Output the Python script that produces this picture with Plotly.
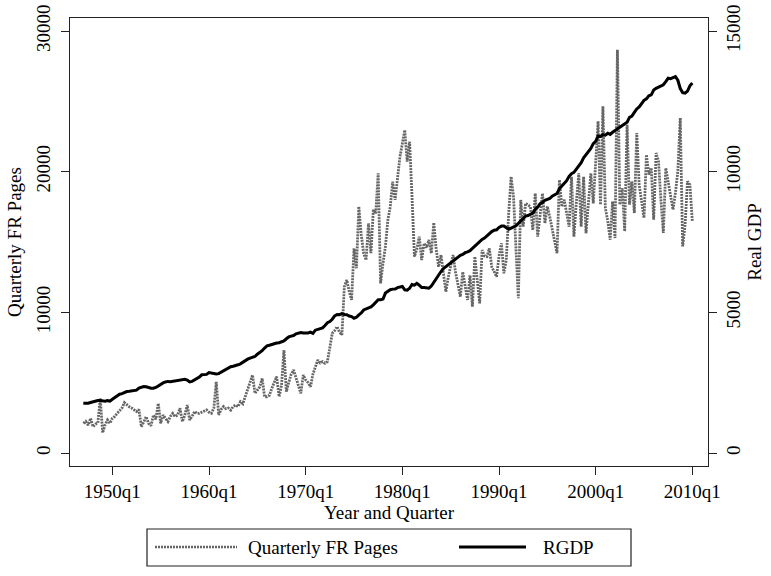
import plotly.graph_objects as go

start_year = 1947
fr_pages = [
    2110, 2250, 1980, 2470,  # 1947
    1870, 2050, 2150, 3890,  # 1948
    1440, 2000, 2350, 2110,  # 1949
    2470, 2600, 2820, 3000,  # 1950
    3200, 3580, 3400, 3290,  # 1951
    3200, 3060, 2950, 3090,  # 1952
    1870, 2200, 2580, 2100,  # 1953
    1940, 2700, 2400, 3530,  # 1954
    2110, 2700, 2450, 2230,  # 1955
    2600, 2820, 2580, 2700,  # 1956
    3180, 2230, 2700, 3410,  # 1957
    2350, 2600, 2950, 2820,  # 1958
    2820, 2900, 2950, 3060,  # 1959
    2900, 2820, 3200, 5070,  # 1960
    2700, 3100, 3300, 3150,  # 1961
    3200, 3050, 3300, 3410,  # 1962
    3300, 3650, 3500, 4000,  # 1963
    4480, 4900, 5545, 4240,  # 1964
    4500, 4700, 5310, 4000,  # 1965
    4000, 4100, 4600, 5000,  # 1966
    5430, 4000, 4800, 7320,  # 1967
    4360, 5000, 5600, 5900,  # 1968
    5300, 4700, 4240, 5545,  # 1969
    5200, 5000, 4710, 5600,  # 1970
    6200, 6610, 6400, 6500,  # 1971
    6380, 6500, 7500, 8510,  # 1972
    8700, 8980, 8600, 8390,  # 1973
    11820, 12300, 11500, 10880,  # 1974
    14550, 13130, 17510, 15500,  # 1975
    14200, 13720, 16330, 14200,  # 1976
    17280, 17040, 19880, 12060,  # 1977
    13500, 14670, 16560, 17500,  # 1978
    19290, 17990, 19500, 21060,  # 1979
    22000, 22960, 20710, 22130,  # 1980
    18230, 13960, 14500, 15380,  # 1981
    13720, 14910, 14600, 15140,  # 1982
    14200, 16370, 14500, 13240,  # 1983
    14080, 12800, 11470, 12500,  # 1984
    13240, 14080, 12870, 12000,  # 1985
    11110, 12870, 11900, 10880,  # 1986
    12630, 10400, 13960, 12000,  # 1987
    10640, 14430, 14000, 13960,  # 1988
    14550, 13240, 12870, 12530,  # 1989
    14000, 14910, 12770, 13720,  # 1990
    17000, 19640, 18230, 15000,  # 1991
    11000, 17990, 16090, 17750,  # 1992
    17600, 17510, 15850, 18460,  # 1993
    15380, 17000, 18460, 16330,  # 1994
    17520, 16800, 15850, 15000,  # 1995
    14200, 19410, 17510, 18000,  # 1996
    17000, 16090, 19640, 15380,  # 1997
    17800, 19880, 16090, 19640,  # 1998
    15620, 17800, 19880, 17750,  # 1999
    20830, 23580, 17650, 24650,  # 2000
    17420, 16500, 15160, 17890,  # 2001
    15280, 28670, 17650, 18840,  # 2002
    15760, 23340, 17650, 19310,  # 2003
    17060, 22750, 19070, 18000,  # 2004
    16710, 21210, 19790, 20260,  # 2005
    16590, 21330, 20740, 18000,  # 2006
    15640, 20260, 19310, 18500,  # 2007
    17300, 18500, 20030, 23820,  # 2008
    14690, 16230, 19310, 19070,  # 2009
    16470,                       # 2010q1
]

rgdp = [
    1772, 1770, 1768, 1795,      # 1947
    1823, 1856, 1866, 1869,      # 1948
    1847, 1838, 1861, 1846,      # 1949
    1912, 1975, 2055, 2090,      # 1950
    2110, 2150, 2185, 2195,      # 1951
    2210, 2215, 2235, 2310,      # 1952
    2345, 2365, 2355, 2325,      # 1953
    2305, 2305, 2330, 2385,      # 1954
    2445, 2490, 2525, 2545,      # 1955
    2535, 2550, 2550, 2580,      # 1956
    2600, 2600, 2620, 2590,      # 1957
    2525, 2545, 2590, 2650,      # 1958
    2700, 2780, 2775, 2795,      # 1959
    2860, 2845, 2840, 2805,      # 1960
    2820, 2865, 2920, 2980,      # 1961
    3030, 3065, 3085, 3100,      # 1962
    3135, 3170, 3230, 3260,      # 1963
    3335, 3375, 3415, 3430,      # 1964
    3510, 3565, 3640, 3730,      # 1965
    3810, 3830, 3860, 3880,      # 1966
    3910, 3920, 3955, 3985,      # 1967
    4060, 4125, 4155, 4175,      # 1968
    4235, 4255, 4280, 4265,      # 1969
    4265, 4265, 4295, 4250,      # 1970
    4365, 4395, 4430, 4450,      # 1971
    4530, 4630, 4675, 4755,      # 1972
    4875, 4925, 4915, 4955,      # 1973
    4925, 4915, 4870, 4850,      # 1974
    4790, 4825, 4910, 4980,      # 1975
    5085, 5125, 5155, 5190,      # 1976
    5265, 5365, 5450, 5445,      # 1977
    5475, 5685, 5745, 5805,      # 1978
    5825, 5830, 5880, 5900,      # 1979
    5920, 5800, 5790, 5855,      # 1980
    5990, 5965, 6030, 5965,      # 1981
    5880, 5885, 5865, 5860,      # 1982
    5935, 6070, 6205, 6330,      # 1983
    6450, 6555, 6620, 6680,      # 1984
    6745, 6800, 6895, 6955,      # 1985
    7025, 7055, 7120, 7150,      # 1986
    7190, 7270, 7345, 7455,      # 1987
    7505, 7590, 7640, 7725,      # 1988
    7820, 7870, 7920, 7935,      # 1989
    8020, 8065, 8065, 7990,      # 1990
    7950, 7995, 8035, 8075,      # 1991
    8160, 8250, 8325, 8420,      # 1992
    8440, 8470, 8525, 8660,      # 1993
    8735, 8860, 8905, 8985,      # 1994
    9025, 9045, 9130, 9175,      # 1995
    9225, 9395, 9495, 9615,      # 1996
    9680, 9835, 9930, 9975,      # 1997
    10100, 10220, 10320, 10495,  # 1998
    10600, 10700, 10825, 10995,  # 1999
    11080, 11260, 11250, 11315,  # 2000
    11295, 11365, 11325, 11400,  # 2001
    11465, 11530, 11585, 11630,  # 2002
    11700, 11760, 11930, 11975,  # 2003
    12105, 12230, 12300, 12420,  # 2004
    12535, 12590, 12700, 12730,  # 2005
    12900, 12960, 12995, 13050,  # 2006
    13090, 13200, 13320, 13305,  # 2007
    13335, 13375, 13250, 12955,  # 2008
    12810, 12790, 12865, 13050,  # 2009
    13150,                       # 2010q1
]

tick_years = [1950, 1960, 1970, 1980, 1990, 2000, 2010]
tick_labels = [f"{y}q1" for y in tick_years]
left_ticks = [0, 10000, 20000, 30000]
right_ticks = [0, 5000, 10000, 15000]
series_names = ["Quarterly FR Pages", "RGDP"]

x = [start_year + i / 4 for i in range(len(rgdp))]

FONT = "Liberation Serif, Times New Roman, serif"
FR_COLOR = "#666666"
FR_DASH = "2px,1px"

fig = go.Figure()
fig.add_trace(go.Scatter(
    x=x, y=fr_pages, mode="lines", name=series_names[0],
    line=dict(color=FR_COLOR, width=2.8, dash=FR_DASH),
    yaxis="y", showlegend=False,
))
fig.add_trace(go.Scatter(
    x=x, y=rgdp, mode="lines", name=series_names[1],
    line=dict(color="black", width=3),
    yaxis="y2", showlegend=False,
))

axis_common = dict(
    showgrid=False, zeroline=False, showline=True, linecolor="#222222",
    linewidth=1.3, ticks="outside", ticklen=8, tickwidth=1.2, tickcolor="#222222",
    tickfont=dict(family=FONT, size=19, color="black"), automargin=False,
)

fig.update_layout(
    width=771, height=576,
    margin=dict(l=70, r=63, t=18, b=110),
    paper_bgcolor="white", plot_bgcolor="white",
    font=dict(family=FONT, size=19, color="black"),
    xaxis=dict(
        **axis_common, mirror=True,
        range=[1945.62, 2011.62],
        tickvals=tick_years, ticktext=tick_labels,
        title=dict(text="Year and Quarter", font=dict(family=FONT, size=19), standoff=0),
    ),
    yaxis=dict(
        **axis_common,
        range=[-924, 30924],
        tickvals=left_ticks, ticktext=[str(v) for v in left_ticks],
        tickangle=-90, ticklabelstandoff=3,
        title=dict(text="Quarterly FR Pages", font=dict(family=FONT, size=19), standoff=6),
    ),
    yaxis2=dict(
        **axis_common,
        overlaying="y", side="right",
        range=[-462, 15462],
        tickvals=right_ticks, ticktext=[str(v) for v in right_ticks],
        tickangle=-90,
        title=dict(text="Real GDP", font=dict(family=FONT, size=19), standoff=4),
    ),
    showlegend=False,
)

# Custom legend (Stata style): bordered box below the plot
PL, PR, PT, PB = 70, 708, 18, 466
def px_x(p):
    return (p - PL) / (PR - PL)
def px_y(p):
    return (PB - p) / (PB - PT)

ly = px_y(547)
fig.add_shape(type="rect", xref="paper", yref="paper",
              x0=px_x(147), x1=px_x(631), y0=px_y(566), y1=px_y(529),
              line=dict(color="#222222", width=1.2), fillcolor="white")
fig.add_shape(type="line", xref="paper", yref="paper",
              x0=px_x(155), x1=px_x(237), y0=ly, y1=ly,
              line=dict(color=FR_COLOR, width=2.6, dash=FR_DASH))
fig.add_shape(type="line", xref="paper", yref="paper",
              x0=px_x(459), x1=px_x(526), y0=ly, y1=ly,
              line=dict(color="black", width=3))
fig.add_annotation(xref="paper", yref="paper", x=px_x(246), y=ly,
                   text=series_names[0], showarrow=False, xanchor="left", yanchor="middle",
                   font=dict(family=FONT, size=19, color="black"))
fig.add_annotation(xref="paper", yref="paper", x=px_x(541), y=ly,
                   text=series_names[1], showarrow=False, xanchor="left", yanchor="middle",
                   font=dict(family=FONT, size=19, color="black"))

fig.write_html("out.html", config={"displayModeBar": False},
               post_script="document.body.style.margin='0';")
